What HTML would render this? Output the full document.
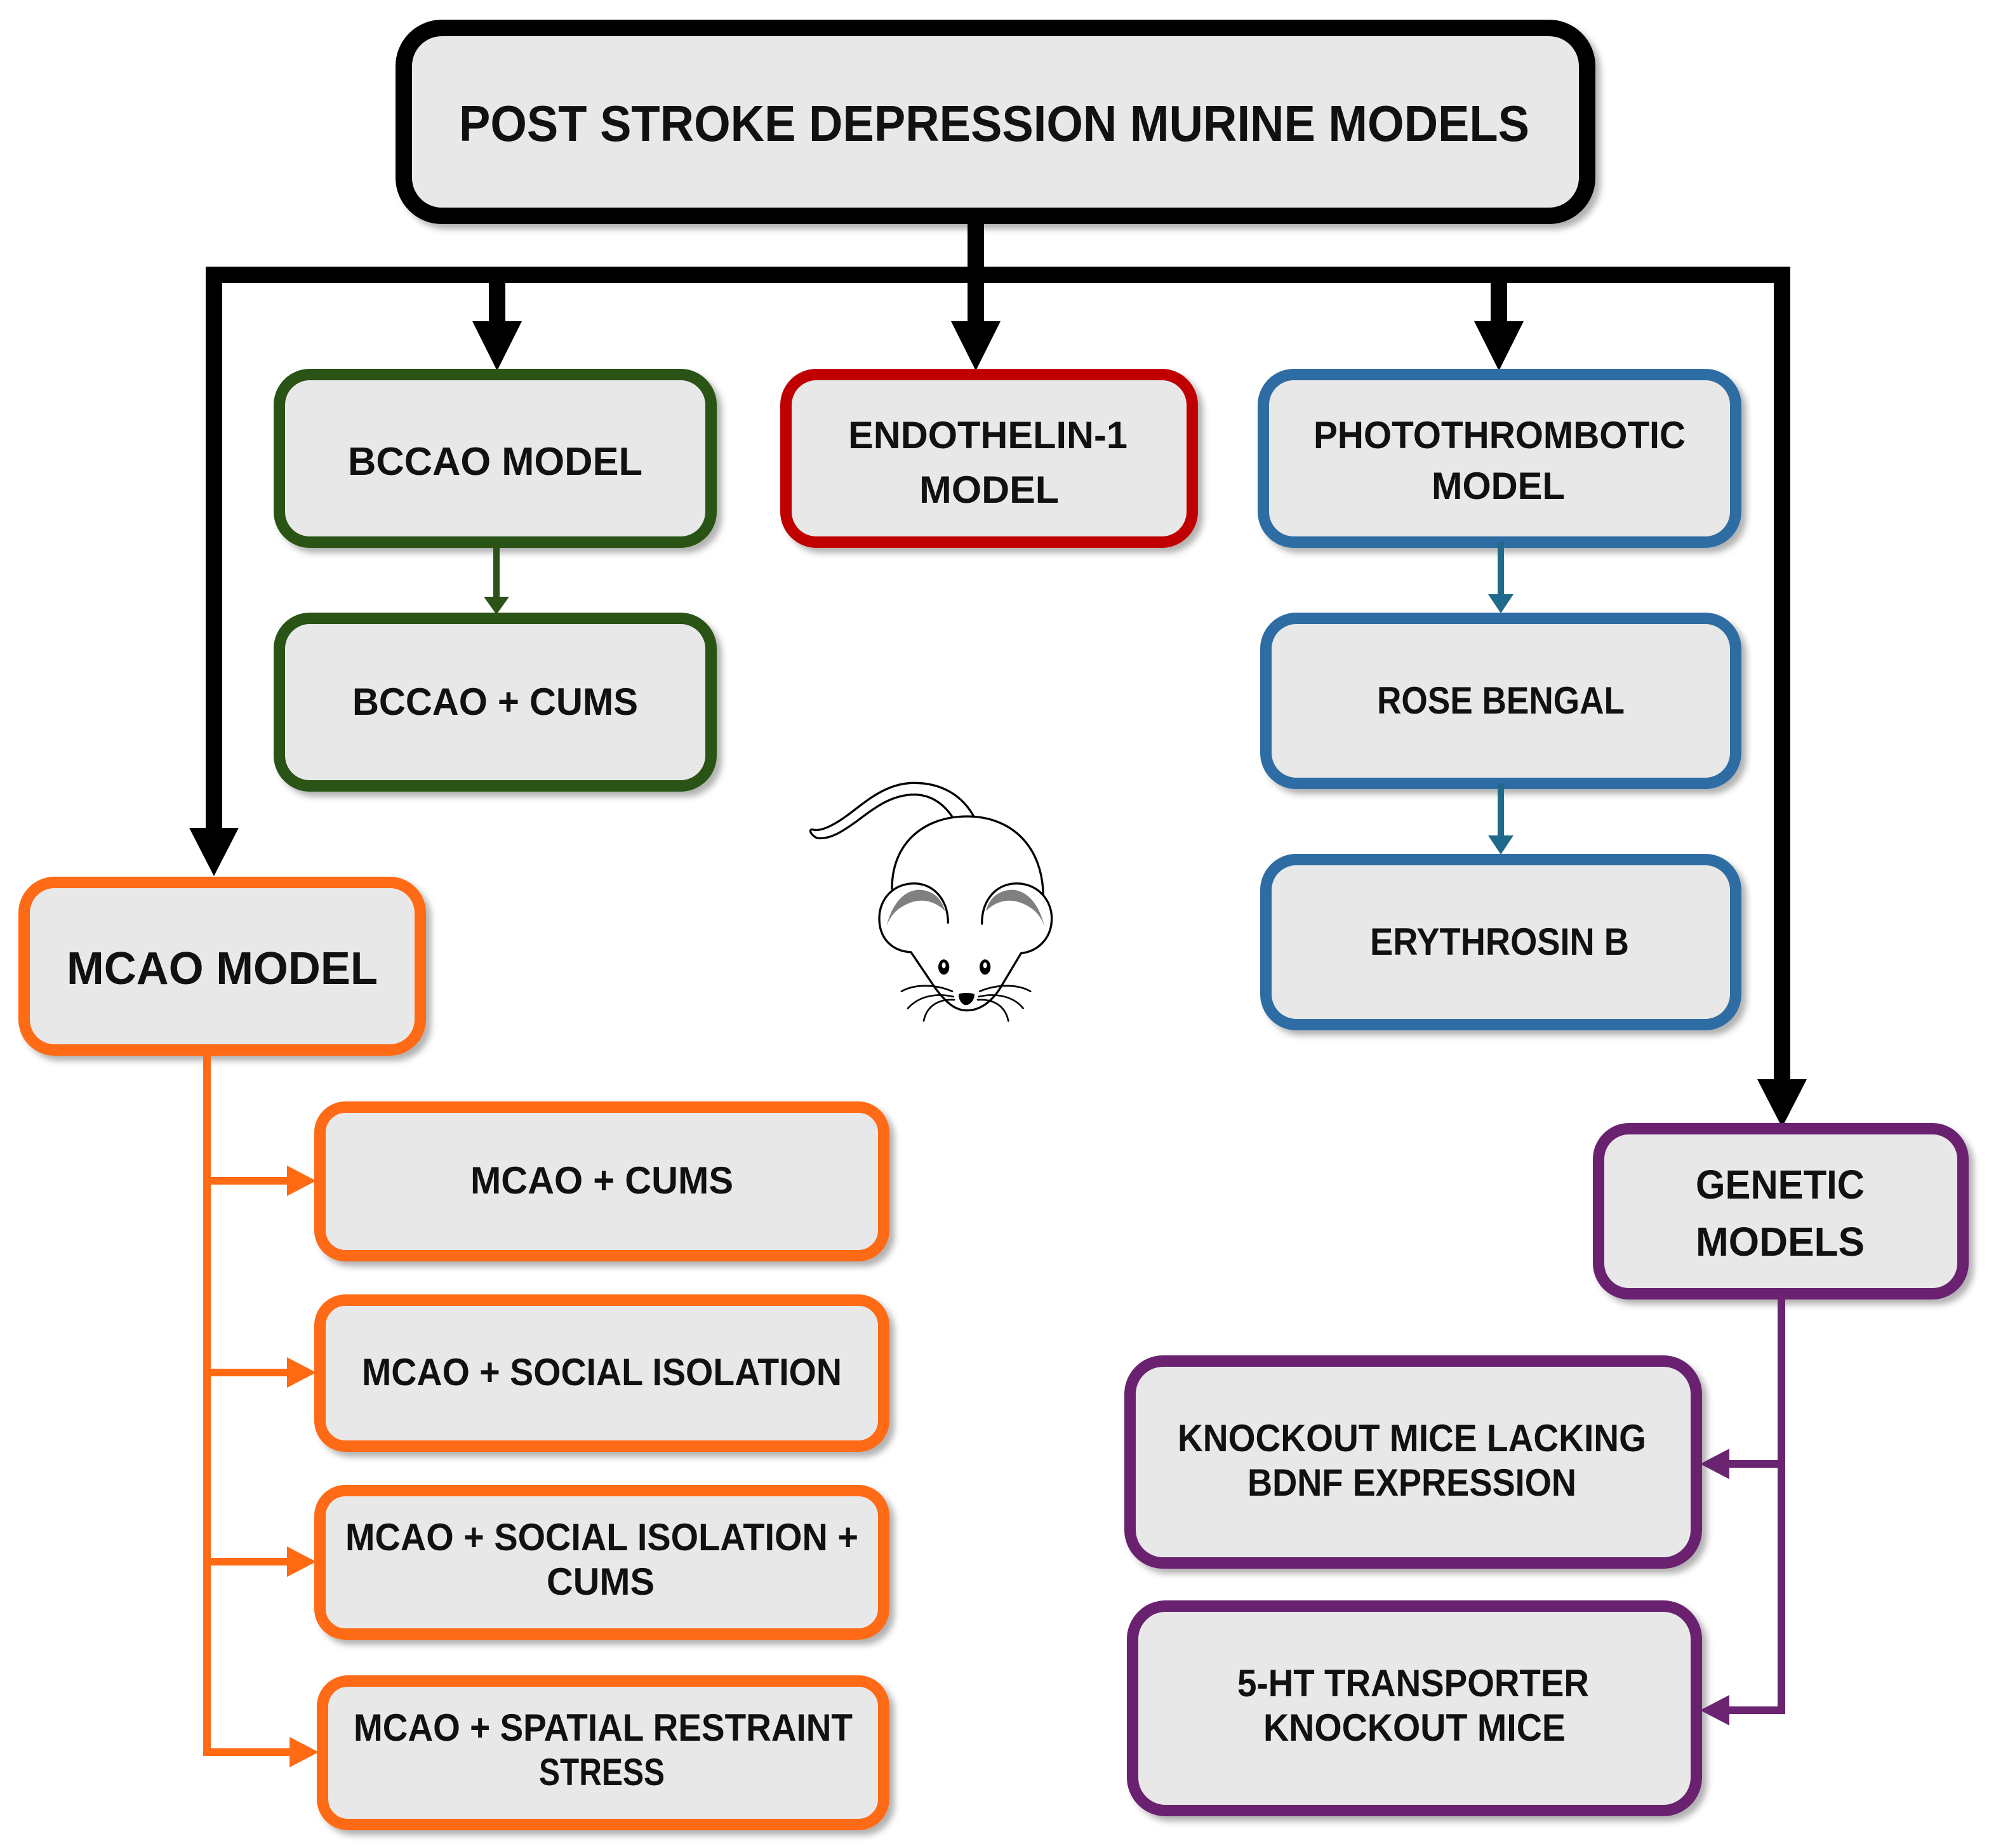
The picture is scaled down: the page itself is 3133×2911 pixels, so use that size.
<!DOCTYPE html>
<html><head><meta charset="utf-8">
<style>
html,body{margin:0;padding:0;background:#fff;}
svg{display:block;}
text{font-family:"Liberation Sans",sans-serif;font-weight:bold;fill:#111;text-anchor:middle;}
</style></head>
<body>
<svg width="3133" height="2911" viewBox="0 0 1566.5 1455.5" xmlns="http://www.w3.org/2000/svg">
<defs>
<filter id="sh" x="-10%" y="-10%" width="130%" height="130%">
<feDropShadow dx="4" dy="4" stdDeviation="2.5" flood-color="#000" flood-opacity="0.3"/>
</filter>
</defs>

<!-- Top box -->
<rect x="318" y="22" width="932" height="148" rx="30" fill="#e8e8e8" stroke="#000" stroke-width="13" filter="url(#sh)"/>
<text x="783" y="111" font-size="40" textLength="843" lengthAdjust="spacingAndGlyphs">POST STROKE DEPRESSION  MURINE MODELS</text>

<!-- black connectors -->
<g fill="#000">
<rect x="762" y="170" width="13" height="52"/>
<rect x="162" y="210" width="1245" height="13"/>
<rect x="162" y="210" width="13" height="445"/>
<polygon points="149,652 188,652 168.5,690"/>
<rect x="1397" y="210" width="13" height="642"/>
<polygon points="1384,850 1423,850 1403.5,888"/>
<rect x="385" y="216" width="13" height="40"/>
<polygon points="372,253 411,253 391.5,292"/>
<rect x="762" y="216" width="13" height="40"/>
<polygon points="749,253 788,253 768.5,292"/>
<rect x="1174" y="216" width="13" height="40"/>
<polygon points="1161,253 1200,253 1180.5,292"/>
</g>

<!-- green -->
<g stroke="#2c5218" stroke-width="9" fill="#e8e8e8">
<rect x="220" y="295" width="340" height="132" rx="24" filter="url(#sh)"/>
<rect x="220" y="487" width="340" height="132" rx="24" filter="url(#sh)"/>
</g>
<rect x="388.5" y="427" width="5" height="46" fill="#2c5218"/>
<polygon points="381,470 401,470 391,484" fill="#2c5218"/>
<text x="390" y="374" font-size="31" textLength="232" lengthAdjust="spacingAndGlyphs">BCCAO MODEL</text>
<text x="390" y="563" font-size="30" textLength="225" lengthAdjust="spacingAndGlyphs">BCCAO + CUMS</text>

<!-- red -->
<rect x="619" y="295" width="320" height="132" rx="24" fill="#e8e8e8" stroke="#c00000" stroke-width="9" filter="url(#sh)"/>
<text x="778" y="353" font-size="30" textLength="220" lengthAdjust="spacingAndGlyphs">ENDOTHELIN-1</text>
<text x="779" y="396" font-size="30" textLength="110" lengthAdjust="spacingAndGlyphs">MODEL</text>

<!-- blue -->
<g stroke="#2e6da4" stroke-width="9" fill="#e8e8e8">
<rect x="995" y="295" width="372" height="132" rx="24" filter="url(#sh)"/>
<rect x="997" y="487" width="370" height="130" rx="24" filter="url(#sh)"/>
<rect x="997" y="677" width="370" height="130" rx="24" filter="url(#sh)"/>
</g>
<g fill="#1f6a8a">
<rect x="1179.5" y="427" width="5" height="44"/>
<polygon points="1172,468 1192,468 1182,483"/>
<rect x="1179.5" y="617" width="5" height="44"/>
<polygon points="1172,658 1192,658 1182,673"/>
</g>
<text x="1181" y="353" font-size="30" textLength="293" lengthAdjust="spacingAndGlyphs">PHOTOTHROMBOTIC</text>
<text x="1180" y="393" font-size="30" textLength="105" lengthAdjust="spacingAndGlyphs">MODEL</text>
<text x="1182" y="562" font-size="30" textLength="195" lengthAdjust="spacingAndGlyphs">ROSE BENGAL</text>
<text x="1181" y="752" font-size="30" textLength="204" lengthAdjust="spacingAndGlyphs">ERYTHROSIN B</text>

<!-- orange -->
<g stroke="#ff6a13" stroke-width="9" fill="#e8e8e8">
<rect x="19" y="695" width="312" height="132" rx="24" filter="url(#sh)"/>
<rect x="252" y="872" width="444" height="117" rx="20" filter="url(#sh)"/>
<rect x="252" y="1024" width="444" height="115" rx="20" filter="url(#sh)"/>
<rect x="252" y="1174" width="444" height="113" rx="20" filter="url(#sh)"/>
<rect x="254" y="1324" width="442" height="113" rx="20" filter="url(#sh)"/>
</g>
<g fill="#ff6a13">
<rect x="160" y="827" width="6" height="556"/>
<rect x="160" y="927" width="70" height="6"/>
<polygon points="226,918 249,930 226,942"/>
<rect x="160" y="1078" width="70" height="6"/>
<polygon points="226,1069 249,1081 226,1093"/>
<rect x="160" y="1227" width="70" height="6"/>
<polygon points="226,1218 249,1230 226,1242"/>
<rect x="160" y="1377" width="72" height="6"/>
<polygon points="228,1368 251,1380 228,1392"/>
</g>
<text x="175" y="775" font-size="36" textLength="245" lengthAdjust="spacingAndGlyphs">MCAO MODEL</text>
<text x="474" y="940" font-size="30" textLength="207" lengthAdjust="spacingAndGlyphs">MCAO + CUMS</text>
<text x="474" y="1091" font-size="30" textLength="378" lengthAdjust="spacingAndGlyphs">MCAO + SOCIAL ISOLATION</text>
<text x="474" y="1221" font-size="30" textLength="404" lengthAdjust="spacingAndGlyphs">MCAO + SOCIAL ISOLATION +</text>
<text x="473" y="1256" font-size="30" textLength="85" lengthAdjust="spacingAndGlyphs">CUMS</text>
<text x="475" y="1371" font-size="30" textLength="393" lengthAdjust="spacingAndGlyphs">MCAO + SPATIAL RESTRAINT</text>
<text x="474" y="1406" font-size="30" textLength="99" lengthAdjust="spacingAndGlyphs">STRESS</text>

<!-- purple -->
<g stroke="#6a2470" stroke-width="9" fill="#e8e8e8">
<rect x="1259" y="889" width="287" height="130" rx="24" filter="url(#sh)"/>
<rect x="890" y="1072" width="446" height="159" rx="26" filter="url(#sh)"/>
<rect x="892" y="1265" width="444" height="161" rx="26" filter="url(#sh)"/>
</g>
<g fill="#6a2470">
<rect x="1400" y="1019" width="6" height="331"/>
<rect x="1358" y="1150" width="48" height="6"/>
<polygon points="1362,1141 1339,1153 1362,1165"/>
<rect x="1358" y="1344" width="48" height="6"/>
<polygon points="1362,1335 1339,1347 1362,1359"/>
</g>
<text x="1402" y="944" font-size="32" textLength="133" lengthAdjust="spacingAndGlyphs">GENETIC</text>
<text x="1402" y="989" font-size="32" textLength="133" lengthAdjust="spacingAndGlyphs">MODELS</text>
<text x="1112" y="1143" font-size="30" textLength="369" lengthAdjust="spacingAndGlyphs">KNOCKOUT MICE LACKING</text>
<text x="1112" y="1178" font-size="30" textLength="259" lengthAdjust="spacingAndGlyphs">BDNF EXPRESSION</text>
<text x="1113" y="1336" font-size="30" textLength="277" lengthAdjust="spacingAndGlyphs">5-HT TRANSPORTER</text>
<text x="1114" y="1371" font-size="30" textLength="238" lengthAdjust="spacingAndGlyphs">KNOCKOUT MICE</text>

<!-- mouse -->
<g transform="scale(0.5) translate(1240,1200) scale(0.3333)" fill="none" stroke="#000" stroke-width="10" stroke-linecap="round" stroke-linejoin="round">
<path d="M880,255 C820,150 720,100 600,100 C450,100 350,210 260,270 C200,310 150,330 120,320 C100,318 110,345 140,360 C200,370 260,330 330,280 C420,210 500,155 600,155 C680,155 740,200 780,260" fill="#fff"/>
<path d="M495,600 C495,380 650,258 850,258 C1060,258 1210,400 1210,640" fill="#fff"/>
<path d="M760,760 C760,650 690,575 600,575 C500,575 435,650 435,740 C435,840 500,895 585,900 L700,1070 C760,1150 800,1175 850,1175 C900,1175 950,1150 1000,1080 L1105,905 C1190,895 1250,830 1250,740 C1250,650 1180,575 1085,575 C990,575 920,650 920,765" fill="#fff"/>
<path d="M470,775 C490,690 540,610 620,605 C680,605 730,640 745,705 C700,660 650,650 600,660 C530,680 490,720 470,775Z" fill="#808080" stroke="none"/>
<path d="M1215,775 C1195,690 1145,610 1065,605 C1005,605 955,640 940,705 C985,660 1035,650 1085,660 C1155,680 1195,720 1215,775Z" fill="#808080" stroke="none"/>
<ellipse cx="740" cy="970" rx="26" ry="36" fill="#000" stroke="none"/>
<ellipse cx="740" cy="962" rx="9" ry="14" fill="#fff" stroke="none"/>
<ellipse cx="935" cy="970" rx="26" ry="36" fill="#000" stroke="none"/>
<ellipse cx="935" cy="962" rx="9" ry="14" fill="#fff" stroke="none"/>
<path d="M810,1100 C810,1090 880,1090 885,1100 C885,1130 860,1150 845,1150 C830,1150 810,1130 810,1100Z" fill="#000" stroke="none"/>
<g stroke-width="8">
<path d="M780,1085 C700,1050 600,1050 540,1085"/>
<path d="M785,1110 C700,1090 620,1110 570,1165"/>
<path d="M790,1125 C720,1120 660,1150 645,1225"/>
<path d="M910,1085 C990,1050 1090,1050 1150,1085"/>
<path d="M905,1110 C990,1090 1070,1110 1115,1165"/>
<path d="M900,1125 C970,1120 1030,1150 1045,1225"/>
</g>
</g>
</svg>
</body></html>
